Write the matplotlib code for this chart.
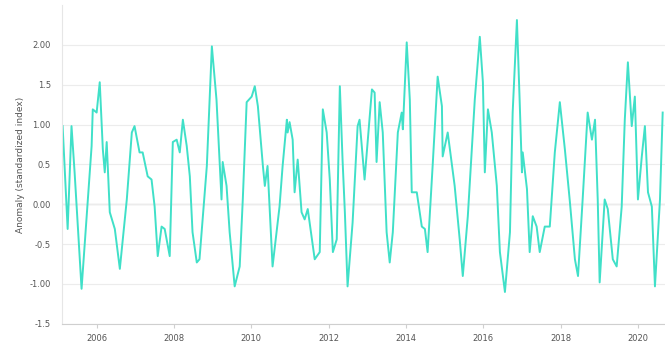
import matplotlib
matplotlib.use("Agg")
import matplotlib.pyplot as plt

years = [2005.12, 2005.25, 2005.35, 2005.43, 2005.61, 2005.87, 2005.90, 2006.00, 2006.08, 2006.16,
         2006.21, 2006.26, 2006.34, 2006.47, 2006.60, 2006.78, 2006.91, 2006.98, 2007.11, 2007.19,
         2007.32, 2007.42, 2007.50, 2007.58, 2007.68, 2007.76, 2007.89, 2007.97, 2008.07, 2008.15,
         2008.23, 2008.33, 2008.41, 2008.48, 2008.59, 2008.66, 2008.85, 2008.98, 2009.10, 2009.23,
         2009.26, 2009.36, 2009.44, 2009.57, 2009.70, 2009.78, 2009.88, 2010.01, 2010.09, 2010.17,
         2010.30, 2010.35, 2010.42, 2010.55, 2010.73, 2010.81, 2010.92, 2010.94, 2010.99, 2011.07,
         2011.12, 2011.20, 2011.30, 2011.38, 2011.46, 2011.64, 2011.77, 2011.85, 2011.95, 2012.03,
         2012.11, 2012.21, 2012.29, 2012.36, 2012.42, 2012.49, 2012.62, 2012.75, 2012.80, 2012.93,
         2013.12, 2013.19, 2013.24, 2013.32, 2013.40, 2013.50, 2013.58, 2013.66, 2013.79, 2013.89,
         2013.92, 2014.02, 2014.10, 2014.15, 2014.28, 2014.41, 2014.49, 2014.56, 2014.69, 2014.82,
         2014.93, 2014.95, 2015.08, 2015.26, 2015.39, 2015.47, 2015.60, 2015.78, 2015.91, 2015.99,
         2016.04, 2016.12, 2016.22, 2016.35, 2016.43, 2016.56, 2016.69, 2016.76, 2016.87, 2016.94,
         2017.00, 2017.02, 2017.13, 2017.20, 2017.28, 2017.38, 2017.46, 2017.59, 2017.72, 2017.85,
         2017.98, 2018.11, 2018.24, 2018.37, 2018.45, 2018.57, 2018.70, 2018.81, 2018.89, 2018.96,
         2019.01, 2019.14, 2019.22, 2019.35, 2019.45, 2019.58, 2019.66, 2019.74, 2019.84, 2019.92,
         2020.00, 2020.10, 2020.18, 2020.26, 2020.36, 2020.44, 2020.57, 2020.64]

anomaly = [0.98, -0.31, 0.98, 0.40, -1.06, 0.73, 1.19, 1.15, 1.53, 0.69,
           0.40, 0.78, -0.10, -0.31, -0.81, 0.06, 0.90, 0.98, 0.65, 0.65,
           0.35, 0.31, -0.03, -0.65, -0.28, -0.31, -0.65, 0.78, 0.81, 0.65,
           1.06, 0.73, 0.35, -0.35, -0.73, -0.69, 0.48, 1.98, 1.31, 0.06,
           0.53, 0.23, -0.35, -1.03, -0.78, 0.06, 1.28, 1.35, 1.48, 1.23,
           0.48, 0.23, 0.48, -0.78, -0.03, 0.48, 1.06, 0.90, 1.03, 0.81,
           0.15, 0.56, -0.10, -0.19, -0.06, -0.69, -0.60, 1.19, 0.90, 0.31,
           -0.60, -0.44, 1.48, 0.56, -0.10, -1.03, -0.23, 0.98, 1.06, 0.31,
           1.44, 1.40, 0.53, 1.28, 0.90, -0.35, -0.73, -0.35, 0.90, 1.15,
           0.94, 2.03, 1.31, 0.15, 0.15, -0.28, -0.31, -0.60, 0.48, 1.60,
           1.23, 0.60, 0.90, 0.23, -0.44, -0.90, -0.15, 1.31, 2.10, 1.53,
           0.40, 1.19, 0.90, 0.23, -0.60, -1.10, -0.35, 1.15, 2.31, 1.31,
           0.40, 0.65, 0.19, -0.60, -0.15, -0.28, -0.60, -0.28, -0.28, 0.65,
           1.28, 0.69, 0.03, -0.69, -0.90, 0.06, 1.15, 0.81, 1.06, 0.06,
           -0.98, 0.06, -0.06, -0.69, -0.78, -0.03, 1.06, 1.78, 0.98, 1.35,
           0.06, 0.60, 0.98, 0.15, -0.03, -1.03, 0.06, 1.15]

y_ticks = [-1.5, -1.0, -0.5, 0.0, 0.5, 1.0, 1.5, 2.0]
y_tick_labels = ["-1.5", "-1.00", "-0.5", "0.00", "0.5", "1.00", "1.5", "2.00"]
x_ticks = [2006, 2008, 2010, 2012, 2014, 2016, 2018, 2020]
x_tick_labels = ["2006", "2008", "2010", "2012", "2014", "2016", "2018", "2020"]
y_label = "Anomaly (standardized index)"

fig = plt.figure(figsize=(6.65, 3.49), dpi=100)
ax = fig.add_axes([0.093, 0.072, 0.907, 0.914])

ax.plot(years, anomaly, color="#40e0c8", linewidth=1.4, solid_joinstyle="round")
ax.axhline(0, color="#c4c4c4", linewidth=0.9, zorder=0)

ax.set_xlim(2005.1, 2020.7)
ax.set_ylim(-1.5, 2.5)
ax.set_yticks(y_ticks)
ax.set_yticklabels(y_tick_labels)
ax.set_xticks(x_ticks)
ax.set_xticklabels(x_tick_labels)

ax.grid(axis="y", color="#ececec", linewidth=0.8)
ax.set_axisbelow(True)
for s in ["top", "right"]:
    ax.spines[s].set_visible(False)
ax.spines["left"].set_color("#e6e6e6")
ax.spines["bottom"].set_color("#cfcfcf")
ax.tick_params(axis="y", length=0, labelsize=6, labelcolor="#555555", pad=8)
ax.tick_params(axis="x", length=3, color="#cfcfcf", labelsize=6, labelcolor="#555555", pad=4)
ax.set_ylabel(y_label, fontsize=6.5, color="#555555", labelpad=3)

fig.savefig("out.png", dpi=100)
